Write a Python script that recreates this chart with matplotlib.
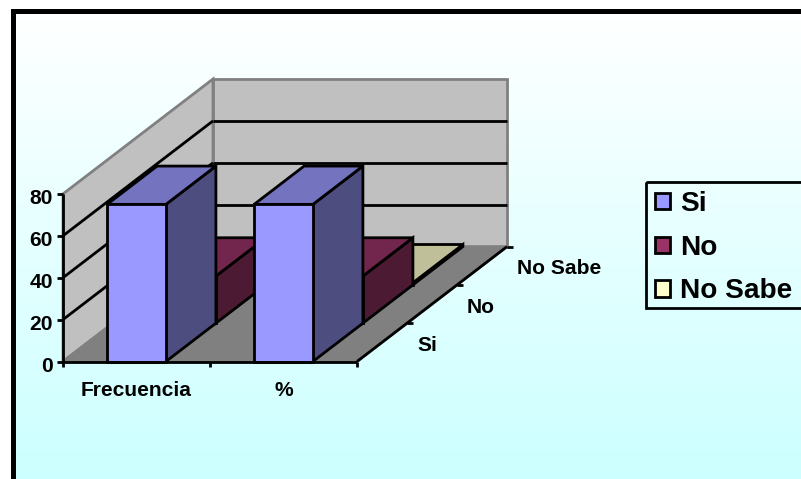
# plot.py - 3D style column chart drawn by hand on a flat axes
import numpy as np
import matplotlib
matplotlib.use("Agg")
import matplotlib.pyplot as plt
from matplotlib.patches import Polygon, Patch, Rectangle

plt.rcParams['font.family'] = ['Liberation Sans', 'DejaVu Sans']
plt.rcParams['font.weight'] = 'bold'

categories = ['Frecuencia', '%']
series = ['Si', 'No', 'No Sabe']
si_values = [75, 75]
no_values = [22.5, 22.5]
nosabe_values = [1, 1]
y_ticks = [0, 20, 40, 60, 80]

front_colors = ['#9999FF', '#993366', '#FFFFCC']
top_colors = ['#7373BF', '#73264D', '#BFBF99']
side_colors = ['#4D4D80', '#4D1A33', '#808066']

# projection of the chart box onto the picture, in pixels
X0, Y0 = 63.0, 361.5
CAT_W = 147.0
DEPTH_DX, DEPTH_DY = 50.0, -38.3
PX_PER_UNIT = 2.095
BAR_W = 0.40
LW = 2.0


def proj(cat, depth, val):
    # cat in category units, depth in series units, val in chart units
    return (X0 + cat * CAT_W + depth * DEPTH_DX,
            Y0 + depth * DEPTH_DY - val * PX_PER_UNIT)


def poly(ax, pts, face, edge='black', lw=LW, z=1):
    ax.add_patch(Polygon(pts, closed=True, facecolor=face, edgecolor=edge,
                         linewidth=lw, joinstyle='miter', zorder=z))


def line(ax, a, b, color='black', lw=LW, z=2):
    ax.plot([a[0], b[0]], [a[1], b[1]], color=color, linewidth=lw,
            solid_capstyle='butt', zorder=z)


def bar(ax, cat, depth, val, i):
    l = cat + 0.5 - BAR_W / 2
    r = cat + 0.5 + BAR_W / 2
    d0, d1 = depth, depth + 1
    poly(ax, [proj(r, d0, 0), proj(r, d1, 0), proj(r, d1, val), proj(r, d0, val)],
         side_colors[i], z=5)
    poly(ax, [proj(l, d0, val), proj(r, d0, val), proj(r, d1, val), proj(l, d1, val)],
         top_colors[i], z=5)
    poly(ax, [proj(l, d0, 0), proj(r, d0, 0), proj(r, d0, val), proj(l, d0, val)],
         front_colors[i], z=5)


fig = plt.figure(figsize=(8.01, 4.79), dpi=100)
ax = fig.add_axes([0, 0, 1, 1])

# background gradient inside the frame
grad = np.linspace(0, 1, 256).reshape(-1, 1, 1)
white = np.array([1.0, 1.0, 1.0]).reshape(1, 1, 3)
cyan = np.array([204, 255, 255]).reshape(1, 1, 3) / 255
ax.imshow(white + (cyan - white) * grad, extent=(13, 801, 479, 10), aspect='auto', zorder=0)
ax.set_xlim(0, 801)
ax.set_ylim(479, 0)
ax.axis('off')

# outer frame, cut off by the picture on the right and bottom
ax.plot([12.5, 12.5, 801], [479, 10.5, 10.5], color='black', linewidth=3.6,
        solid_joinstyle='miter', zorder=1)
ax.plot([15, 801], [478.6, 478.6], color='#80A0A0', linewidth=0.7, zorder=1)

ncat = len(categories)
nser = len(series)
top = y_ticks[-1]

# walls and floor
poly(ax, [proj(0, 0, 0), proj(0, nser, 0), proj(0, nser, top), proj(0, 0, top)],
     '#C0C0C0', edge='#808080', z=1)
poly(ax, [proj(0, nser, 0), proj(ncat, nser, 0), proj(ncat, nser, top), proj(0, nser, top)],
     '#C0C0C0', edge='#808080', z=1)
poly(ax, [proj(0, 0, 0), proj(ncat, 0, 0), proj(ncat, nser, 0), proj(0, nser, 0)],
     '#808080', edge='#808080', z=1)

# gridlines
for v in y_ticks[1:-1]:
    line(ax, proj(0, 0, v), proj(0, nser, v))
    line(ax, proj(0, nser, v), proj(ncat, nser, v))

# bars, back to front
all_values = [si_values, no_values, nosabe_values]
for d in range(nser - 1, -1, -1):
    for c in range(ncat):
        bar(ax, c, d, all_values[d][c], d)

# axes lines
line(ax, proj(0, 0, 0), proj(0, 0, top), z=6)
line(ax, proj(0, 0, 0), proj(ncat, 0, 0), z=6)
line(ax, proj(ncat, 0, 0), proj(ncat, nser, 0), z=6)

# value axis ticks and labels
for v in y_ticks:
    px, py = proj(0, 0, v)
    line(ax, (px - 6, py), (px, py), z=6)
    ax.text(px - 10, py + 4.5, str(v), ha='right', va='center', fontsize=15.1, zorder=7)

# category ticks and labels
for c in range(ncat + 1):
    px, py = proj(c, 0, 0)
    line(ax, (px, py), (px, py + 5), z=6)
for c, name in enumerate(categories):
    px, py = proj(c + 0.5, 0, 0)
    ax.text(px, py + 29, name, ha='center', va='center', fontsize=15.1, zorder=7)

# depth ticks and labels
for d in range(1, nser + 1):
    px, py = proj(ncat, d, 0)
    line(ax, (px, py), (px + 6, py), z=6)
for d, name in enumerate(series):
    px, py = proj(ncat, d + 0.5, 0)
    ax.text(px + 35, py + 3, name, ha='left', va='center', fontsize=15.1, zorder=7)

# legend, its box is drawn apart so the height can be set
ax.add_patch(Rectangle((646, 181.5), 160, 126.5, facecolor='none', edgecolor='black',
                       linewidth=LW, zorder=8))
handles = [Patch(facecolor=front_colors[i], edgecolor='black', linewidth=LW, label=series[i])
           for i in range(nser)]
leg = ax.legend(handles=handles, loc='upper left', bbox_to_anchor=(645, 181),
                bbox_transform=ax.transData, borderaxespad=0, borderpad=0.36,
                prop={'size': 20.2, 'weight': 'bold'}, handlelength=0.52, handleheight=0.52,
                handletextpad=0.38, labelspacing=0.63, frameon=False)
leg.set_zorder(8)

fig.savefig('out.png', dpi=100)
